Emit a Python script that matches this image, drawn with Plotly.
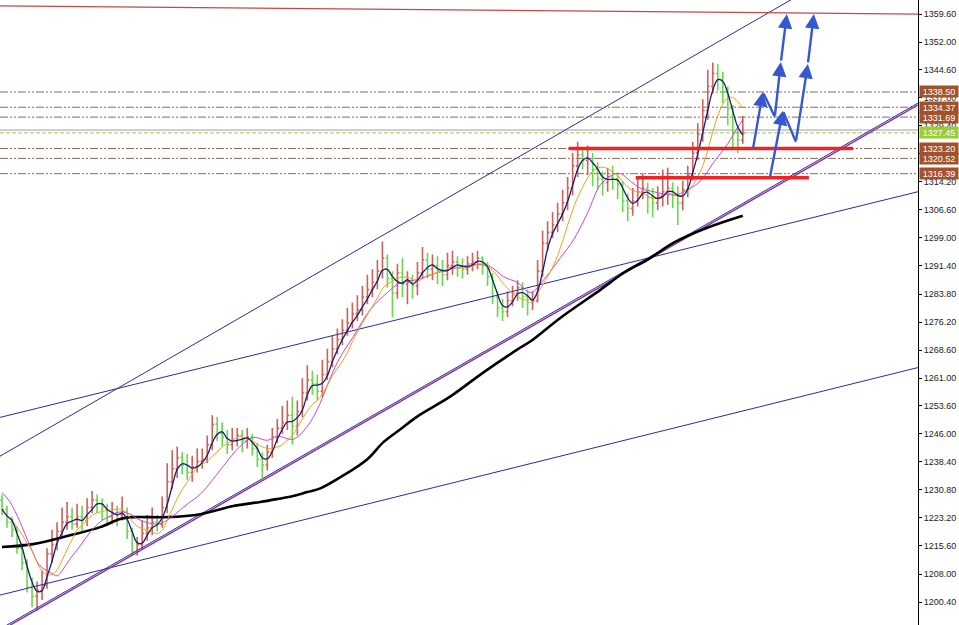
import plotly.graph_objects as go
import pandas as pd

# ---------------- price bars ----------------
opens = [1228.0, 1225.5, 1222.0, 1220.0, 1215.0, 1211.0, 1204.5, 1202.0, 1203.5, 1205.0,
         1213.5, 1216.0, 1219.5, 1222.0, 1223.5, 1221.5, 1223.5, 1222.5, 1226.0, 1228.0,
         1227.0, 1226.0, 1223.5, 1224.5, 1224.0, 1225.0, 1219.5, 1214.0, 1216.0, 1219.0,
         1220.5, 1222.0, 1221.5, 1226.0, 1233.0, 1236.5, 1239.5, 1237.5, 1235.5, 1237.0,
         1238.5, 1239.0, 1243.0, 1248.5, 1246.0, 1245.0, 1243.0, 1244.0, 1245.5, 1244.0,
         1245.0, 1242.0, 1239.0, 1237.5, 1241.0, 1245.0, 1247.5, 1249.0, 1251.0, 1248.0,
         1252.0, 1257.0, 1260.5, 1259.5, 1257.5, 1262.0, 1265.5, 1269.0, 1271.5, 1274.0,
         1276.0, 1278.5, 1279.5, 1283.0, 1285.0, 1287.0, 1290.0, 1293.5, 1288.0, 1284.0,
         1289.5, 1286.5, 1287.0, 1286.0, 1289.5, 1293.0, 1290.5, 1291.5, 1290.0, 1289.0,
         1291.5, 1292.5, 1291.0, 1290.5, 1292.0, 1292.5, 1293.5, 1291.5, 1288.5, 1283.0,
         1280.0, 1279.0, 1282.0, 1284.0, 1285.5, 1283.0, 1281.5, 1282.0, 1290.0, 1297.5,
         1300.5, 1302.5, 1305.5, 1308.5, 1312.5, 1318.5, 1321.5, 1320.0, 1320.5, 1317.5,
         1315.0, 1314.0, 1315.5, 1315.0, 1313.5, 1309.0, 1307.0, 1309.0, 1311.5, 1312.5,
         1310.0, 1308.5, 1310.5, 1311.5, 1312.5, 1310.5, 1308.5, 1312.0, 1316.0, 1322.0,
         1327.0, 1333.5, 1340.0, 1343.5, 1342.0, 1338.5, 1334.0, 1327.5, 1325.5]
highs = [1229.5, 1226.5, 1223.5, 1221.0, 1216.5, 1212.0, 1207.0, 1206.0, 1209.0, 1215.0,
         1220.0, 1222.0, 1226.0, 1227.5, 1226.0, 1227.0, 1226.5, 1228.5, 1230.5, 1229.5,
         1228.5, 1227.0, 1227.5, 1226.5, 1229.0, 1226.0, 1220.5, 1218.0, 1222.5, 1224.0,
         1226.0, 1224.0, 1229.0, 1238.0, 1241.5, 1242.5, 1241.0, 1240.5, 1240.0, 1242.0,
         1242.0, 1245.5, 1251.0, 1250.5, 1249.0, 1247.0, 1247.5, 1247.5, 1247.0, 1247.5,
         1246.0, 1243.5, 1241.0, 1243.0, 1247.5, 1250.0, 1253.5, 1255.0, 1256.0, 1255.0,
         1261.0, 1264.5, 1263.0, 1262.0, 1266.0, 1269.0, 1272.5, 1274.5, 1277.0, 1280.0,
         1281.5, 1283.5, 1286.0, 1289.0, 1290.5, 1293.0, 1298.0, 1294.5, 1290.0, 1292.0,
         1293.5, 1290.0, 1289.0, 1292.5, 1296.5, 1295.0, 1294.5, 1294.0, 1293.0, 1295.0,
         1295.5, 1294.0, 1293.5, 1294.0, 1295.0, 1295.5, 1294.0, 1292.5, 1289.5, 1284.5,
         1282.5, 1284.5, 1286.0, 1287.5, 1287.0, 1285.0, 1284.5, 1293.0, 1301.0, 1303.5,
         1306.0, 1308.5, 1312.0, 1315.5, 1322.0, 1325.0, 1323.0, 1324.0, 1322.0, 1319.5,
         1317.0, 1318.0, 1318.5, 1316.5, 1314.5, 1311.0, 1312.5, 1315.5, 1316.5, 1314.0,
         1312.5, 1313.0, 1317.5, 1318.0, 1314.0, 1313.0, 1314.5, 1318.5, 1325.0, 1330.0,
         1336.5, 1344.5, 1346.5, 1346.0, 1344.0, 1340.0, 1335.0, 1329.5, 1332.0]
lows = [1224.0, 1220.5, 1218.0, 1213.5, 1209.0, 1203.0, 1199.0, 1198.0, 1201.0, 1204.0,
        1211.0, 1214.5, 1218.0, 1220.0, 1220.0, 1220.5, 1219.5, 1221.0, 1224.5, 1224.5,
        1222.5, 1221.0, 1221.5, 1221.0, 1222.5, 1217.5, 1213.0, 1213.0, 1214.5, 1217.0,
        1218.5, 1219.5, 1220.5, 1224.5, 1231.0, 1234.0, 1235.0, 1233.5, 1233.0, 1235.5,
        1236.5, 1238.0, 1241.5, 1244.0, 1242.5, 1240.5, 1241.5, 1242.5, 1241.0, 1242.0,
        1240.0, 1237.0, 1234.0, 1236.0, 1239.5, 1243.5, 1246.0, 1247.0, 1243.0, 1245.5,
        1250.5, 1255.0, 1256.5, 1255.0, 1256.0, 1260.5, 1264.0, 1267.5, 1270.0, 1272.5,
        1274.5, 1276.5, 1278.0, 1281.0, 1283.0, 1285.0, 1288.0, 1285.5, 1277.5, 1282.5,
        1283.0, 1281.0, 1282.5, 1283.5, 1288.0, 1288.0, 1287.5, 1286.5, 1286.0, 1287.5,
        1289.0, 1288.5, 1288.0, 1289.0, 1290.0, 1290.5, 1289.0, 1286.0, 1281.0, 1277.5,
        1276.5, 1277.5, 1280.5, 1282.0, 1280.0, 1278.0, 1279.5, 1281.5, 1288.5, 1295.5,
        1299.0, 1300.5, 1303.5, 1306.5, 1310.5, 1315.5, 1317.5, 1316.0, 1313.0, 1312.0,
        1310.5, 1311.5, 1312.0, 1309.5, 1306.0, 1303.5, 1305.0, 1307.5, 1309.5, 1305.5,
        1304.5, 1306.5, 1307.5, 1308.0, 1307.0, 1302.5, 1306.5, 1310.0, 1314.5, 1320.0,
        1325.0, 1331.0, 1338.0, 1339.0, 1335.5, 1329.5, 1323.5, 1322.0, 1324.5]
closes = [1225.5, 1222.0, 1220.0, 1215.0, 1211.0, 1204.5, 1202.0, 1203.5, 1205.0, 1213.5,
          1216.0, 1219.5, 1222.0, 1223.5, 1221.5, 1223.5, 1222.5, 1226.0, 1228.0, 1227.0,
          1226.0, 1223.5, 1224.5, 1224.0, 1225.0, 1219.5, 1214.0, 1216.0, 1219.0, 1220.5,
          1222.0, 1221.5, 1226.0, 1233.0, 1236.5, 1239.5, 1237.5, 1235.5, 1237.0, 1238.5,
          1239.0, 1243.0, 1248.5, 1246.0, 1245.0, 1243.0, 1244.0, 1245.5, 1244.0, 1245.0,
          1242.0, 1239.0, 1237.5, 1241.0, 1245.0, 1247.5, 1249.0, 1251.0, 1248.0, 1252.0,
          1257.0, 1260.5, 1259.5, 1257.5, 1262.0, 1265.5, 1269.0, 1271.5, 1274.0, 1276.0,
          1278.5, 1279.5, 1283.0, 1285.0, 1287.0, 1290.0, 1293.5, 1288.0, 1284.0, 1289.5,
          1286.5, 1287.0, 1286.0, 1289.5, 1293.0, 1290.5, 1291.5, 1290.0, 1289.0, 1291.5,
          1292.5, 1291.0, 1290.5, 1292.0, 1292.5, 1293.5, 1291.5, 1288.5, 1283.0, 1280.0,
          1279.0, 1282.0, 1284.0, 1285.5, 1283.0, 1281.5, 1282.0, 1290.0, 1297.5, 1300.5,
          1302.5, 1305.5, 1308.5, 1312.5, 1318.5, 1321.5, 1320.0, 1320.5, 1317.5, 1315.0,
          1314.0, 1315.5, 1315.0, 1313.5, 1309.0, 1307.0, 1309.0, 1311.5, 1312.5, 1310.0,
          1308.5, 1310.5, 1311.5, 1312.5, 1310.5, 1308.5, 1312.0, 1316.0, 1322.0, 1327.0,
          1333.5, 1340.0, 1343.5, 1342.0, 1338.5, 1334.0, 1327.5, 1325.5, 1327.45]
bar_index = list(range(len(closes)))

# ---------------- long moving averages ----------------
magenta_x = [0, 1.6, 3.6, 5.6, 7.6, 9.6, 11, 12.2, 13.6, 15.6, 17.6, 19.6, 21.6, 23.6, 25.6,
             27.6, 31, 33, 37, 39.6, 42.2, 44.2, 47.6, 50.2, 53, 55, 58.2, 61, 63, 67, 70.2,
             73.6, 77, 79.6, 83, 87, 91, 95, 97.6, 100.2, 103, 105.6, 108.6, 111.6, 114.2,
             117, 119.6, 122.2, 123.6, 125.6, 127.6, 130.2, 133, 135, 137, 139.6, 142.2, 145,
             147, 148]
magenta_y = [1230.1, 1227.5, 1222.1, 1215.6, 1210.2, 1208.5, 1207.5, 1209.3, 1212.1, 1215.6,
             1219.3, 1222.1, 1223.7, 1224.8, 1224.2, 1222.6, 1221.5, 1222.6, 1226.9, 1229.6,
             1233.7, 1237.2, 1242.6, 1245.0, 1244.2, 1245.3, 1244.5, 1248.0, 1252.6, 1265.3,
             1272.3, 1279.6, 1284.2, 1286.9, 1287.7, 1289.6, 1291.0, 1291.8, 1291.2, 1288.5,
             1286.9, 1284.2, 1288.3, 1293.7, 1298.5, 1305.8, 1313.5, 1316.2, 1316.4, 1314.3,
             1312.4, 1311.5, 1310.7, 1310.8, 1312.0, 1314.5, 1319.5, 1324.5, 1329.0, 1331.0]
black_x = [0, 6.2, 13, 19.6, 23.6, 26.2, 33, 39.6, 46.2, 51.6, 55, 58.2, 61, 63.6, 67.6, 73,
           76.2, 79.6, 83, 89.6, 96.2, 103, 105.6, 111.6, 119.6, 124.6, 129, 134.2, 141, 148]
black_y = [1215.3, 1216.1, 1218.3, 1220.7, 1222.9, 1223.4, 1223.4, 1224.2, 1226.4, 1227.5,
           1228.3, 1229.1, 1230.2, 1231.2, 1234.2, 1239.1, 1243.7, 1247.2, 1250.7, 1256.1,
           1262.6, 1268.8, 1271.0, 1277.4, 1285.0, 1289.9, 1293.1, 1297.7, 1301.8, 1305.0]

# ---------------- drawn objects ----------------
x_left, x_right = -0.4, 183.0
y_low, y_high = 1194.2, 1363.4

upper_channel_x = [-0.4, 183.0]
upper_channel_y = [1239.9, 1383.3]
support_x = [-0.4, 183.0]
support_y = [1192.6, 1335.0]
middle_line_x = [-0.4, 183.0]
middle_line_y = [1250.4, 1311.5]
lower_line_x = [-0.4, 183.0]
lower_line_y = [1202.3, 1263.9]
top_red_x = [-0.4, 183.0]
top_red_y = [1361.8, 1359.6]

red_level1_x = [113.2, 170.0]
red_level1_y = [1323.2, 1323.2]
red_level2_x = [126.6, 161.2]
red_level2_y = [1315.3, 1315.3]

level_values = [1338.50, 1334.37, 1331.69, 1323.20, 1320.52, 1316.39]
bid_price = 1327.45
ask_price = 1328.2

# arrow segments: tail (x0,y0) -> head (x1,y1)
arrow_x0 = [150.0, 152.0, 154.4, 155.6, 153.4, 156.0, 158.6, 161.0]
arrow_y0 = [1322.9, 1338.5, 1331.8, 1346.6, 1315.3, 1333.4, 1325.0, 1346.1]
arrow_x1 = [152.0, 154.4, 155.6, 156.8, 156.0, 158.6, 161.0, 162.2]
arrow_y1 = [1338.5, 1331.8, 1346.6, 1359.6, 1333.4, 1325.0, 1346.1, 1359.6]
arrow_heads = [2, 0, 2, 2, 2, 0, 2, 2]

ytick_vals = [1359.6, 1352.0, 1344.6, 1337.0, 1329.4, 1321.8, 1314.2, 1306.6, 1299.0, 1291.4,
              1283.8, 1276.2, 1268.6, 1261.0, 1253.6, 1246.0, 1238.4, 1230.8, 1223.2, 1215.6,
              1208.0, 1200.4]

# ---------------- figure ----------------
fig = go.Figure()

close_s = pd.Series(closes)
fast_ma = close_s.rolling(3, min_periods=1).mean()
mid_ma = close_s.rolling(7, min_periods=1).mean()

fig.add_trace(go.Scatter(x=upper_channel_x, y=upper_channel_y, mode="lines",
                         line=dict(color="#2c2c9a", width=1), hoverinfo="skip"))
fig.add_trace(go.Scatter(x=middle_line_x, y=middle_line_y, mode="lines",
                         line=dict(color="#2c2c9a", width=1), hoverinfo="skip"))
fig.add_trace(go.Scatter(x=lower_line_x, y=lower_line_y, mode="lines",
                         line=dict(color="#2c2c9a", width=1), hoverinfo="skip"))
fig.add_trace(go.Scatter(x=support_x, y=[v + 0.5 for v in support_y], mode="lines",
                         line=dict(color="#2c2c9a", width=1), hoverinfo="skip"))
fig.add_trace(go.Scatter(x=support_x, y=support_y, mode="lines",
                         line=dict(color="#8a3a9a", width=1.5), hoverinfo="skip"))
fig.add_trace(go.Scatter(x=top_red_x, y=top_red_y, mode="lines",
                         line=dict(color="#c84848", width=1.2), hoverinfo="skip"))

fig.add_trace(go.Ohlc(x=bar_index, open=opens, high=highs, low=lows, close=closes,
                      increasing=dict(line=dict(color="#d25f58", width=1.6)),
                      decreasing=dict(line=dict(color="#66d94a", width=1.6)),
                      tickwidth=0.35, hoverinfo="skip"))

fig.add_trace(go.Scatter(x=black_x, y=black_y, mode="lines", line_shape="spline",
                         line=dict(color="#000000", width=2.6), hoverinfo="skip"))
fig.add_trace(go.Scatter(x=magenta_x, y=magenta_y, mode="lines", line_shape="spline",
                         line=dict(color="#cc44cc", width=1), hoverinfo="skip"))
fig.add_trace(go.Scatter(x=bar_index, y=mid_ma, mode="lines", line_shape="spline",
                         line=dict(color="#f0a020", width=1), hoverinfo="skip"))
fig.add_trace(go.Scatter(x=bar_index, y=fast_ma, mode="lines", line_shape="spline",
                         line=dict(color="#15206e", width=1.3), hoverinfo="skip"))

fig.add_trace(go.Scatter(x=red_level1_x, y=red_level1_y, mode="lines",
                         line=dict(color="#ee2424", width=3.5), hoverinfo="skip"))
fig.add_trace(go.Scatter(x=red_level2_x, y=red_level2_y, mode="lines",
                         line=dict(color="#ee2424", width=3.5), hoverinfo="skip"))

shapes = []
for v in level_values:
    shapes.append(dict(type="line", xref="paper", x0=0, x1=1, yref="y", y0=v, y1=v,
                       line=dict(color="#8c6a55", width=1, dash="8px,2px,2px,2px,2px,2px"),
                       layer="below"))
shapes.append(dict(type="line", xref="paper", x0=0, x1=1, yref="y", y0=ask_price, y1=ask_price,
                   line=dict(color="#a0a0a0", width=1), layer="below"))
shapes.append(dict(type="line", xref="paper", x0=0, x1=1, yref="y", y0=bid_price, y1=bid_price,
                   line=dict(color="#b4d27a", width=1.2, dash="4px,2px"), layer="below"))

annotations = []
for x0, y0, x1, y1, h in zip(arrow_x0, arrow_y0, arrow_x1, arrow_y1, arrow_heads):
    annotations.append(dict(x=x1, y=y1, ax=x0, ay=y0, xref="x", yref="y", axref="x", ayref="y",
                            text="", showarrow=True, arrowhead=h, arrowsize=1.2,
                            arrowwidth=2.4, arrowcolor="#3558d0", standoff=0, startstandoff=0))
for v in level_values:
    annotations.append(dict(x=1, xref="paper", y=v, yref="y", xanchor="left", xshift=1,
                            text=f"{v:.2f}", showarrow=False, bgcolor="#a0522d",
                            font=dict(color="#ffffff", size=9, family="Liberation Sans"),
                            width=37, height=10, borderpad=0.5))
annotations.append(dict(x=1, xref="paper", y=bid_price, yref="y", xanchor="left", xshift=1,
                        text=f"{bid_price:.2f}", showarrow=False, bgcolor="#9acd32",
                        font=dict(color="#ffffff", size=9, family="Liberation Sans"),
                        width=37, height=10, borderpad=0.5))

fig.update_layout(
    width=959, height=625,
    margin=dict(l=0, r=41, t=0, b=0),
    paper_bgcolor="#ffffff", plot_bgcolor="#ffffff",
    showlegend=False,
    shapes=shapes,
    annotations=annotations,
    xaxis=dict(range=[x_left, x_right], visible=False, rangeslider=dict(visible=False),
               fixedrange=True),
    yaxis=dict(range=[y_low, y_high], side="right", showgrid=False, zeroline=False,
               showline=True, linecolor="#000000", linewidth=1,
               ticks="outside", ticklen=3, tickcolor="#000000",
               tickvals=ytick_vals, ticktext=[f"{v:.2f}" for v in ytick_vals],
               tickfont=dict(family="Liberation Sans", size=9, color="#222222")),
)

fig.write_html("out.html", config={"displayModeBar": False, "staticPlot": True},
               post_script="document.body.style.margin='0px';")
